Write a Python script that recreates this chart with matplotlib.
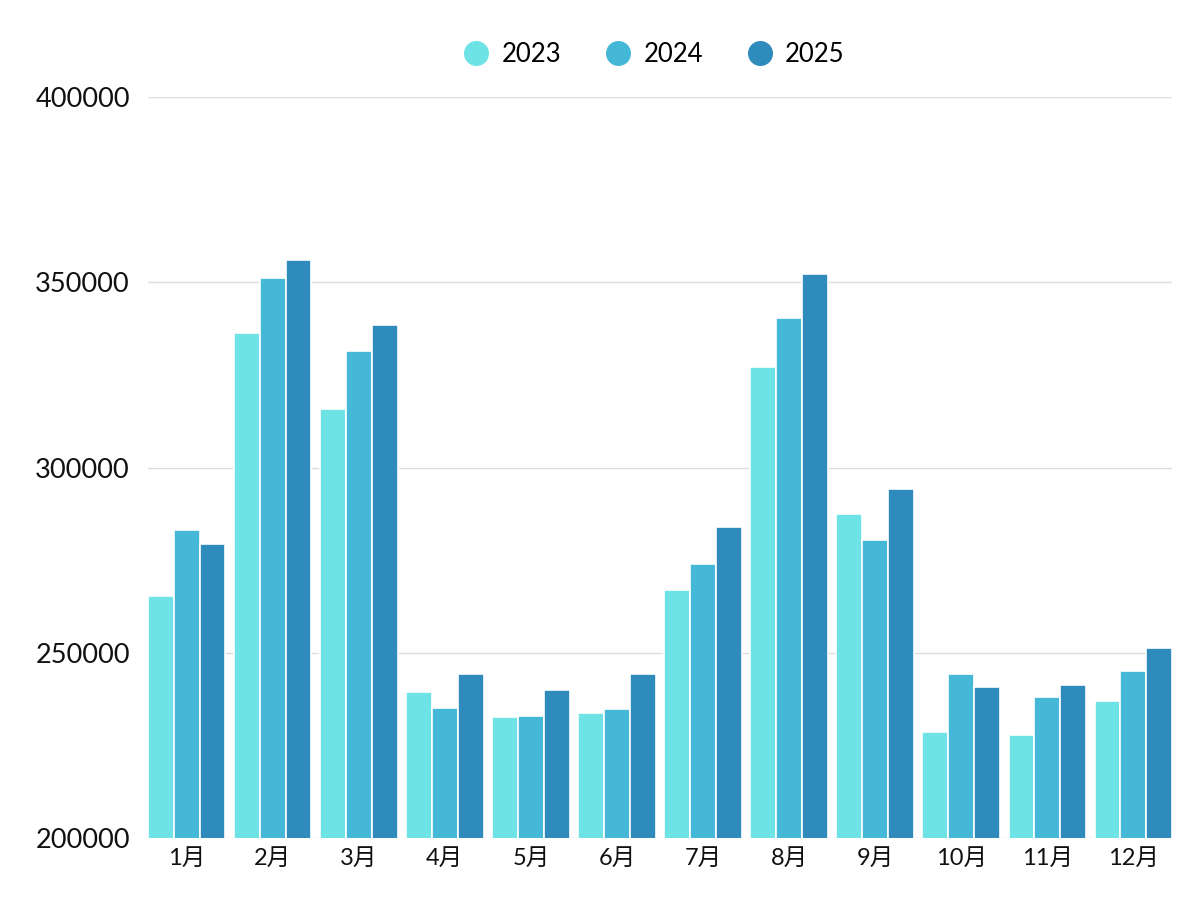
import numpy as np
import matplotlib
matplotlib.use("Agg")
import matplotlib.pyplot as plt
from matplotlib.lines import Line2D

plt.rcParams['font.family'] = ['Lato', 'Noto Sans CJK JP', 'DejaVu Sans']

months = ['1月', '2月', '3月', '4月', '5月', '6月', '7月', '8月', '9月', '10月', '11月', '12月']
years = ['2023', '2024', '2025']
v2023 = [265300, 336300, 315800, 239400, 232700, 233700, 266900, 327100, 287400, 228600, 227800, 237000]
v2024 = [283100, 351100, 331400, 235100, 232900, 234800, 274000, 340400, 280400, 244300, 238100, 245100]
v2025 = [279400, 356000, 338500, 244300, 239900, 244300, 283900, 352200, 294200, 240800, 241300, 251300]
colors = ['#6ee3e6', '#45b8d7', '#2e8bbb']

fig = plt.figure(figsize=(12, 9), dpi=100)
ax = fig.add_axes([0.1233, 0.0689, 0.8534, 0.8233])

x = np.arange(len(months))
w = 0.3
for i, vals in enumerate([v2023, v2024, v2025]):
    ax.bar(x + (i - 1) * w, vals, width=w, color=colors[i],
           edgecolor='white', linewidth=1.2, zorder=3)

ax.set_ylim(200000, 400000)
ax.set_xlim(-0.45, 11.45)
ax.set_yticks([200000, 250000, 300000, 350000, 400000])
ax.set_yticklabels(['200000', '250000', '300000', '350000', '400000'])
ax.set_xticks(x)
ax.set_xticklabels(months)
ax.tick_params(axis='y', length=0, pad=13, labelsize=19.5, labelcolor='#111111')
ax.tick_params(axis='x', length=0, pad=7, labelsize=17, labelcolor='#111111')
ax.grid(axis='y', color='#dddddd', linewidth=1, zorder=0)
for s in ax.spines.values():
    s.set_visible(False)

# legend: round markers above the plot
handles = [Line2D([], [], marker='o', linestyle='none', markersize=17,
                  markerfacecolor=c, markeredgecolor=c) for c in colors]
fig.legend(handles, years, loc='center', bbox_to_anchor=(0.545, 0.939),
           ncol=3, frameon=False, fontsize=18.5, handlelength=1.0,
           handletextpad=0.5, columnspacing=1.7)

fig.savefig('out.png', dpi=100)
